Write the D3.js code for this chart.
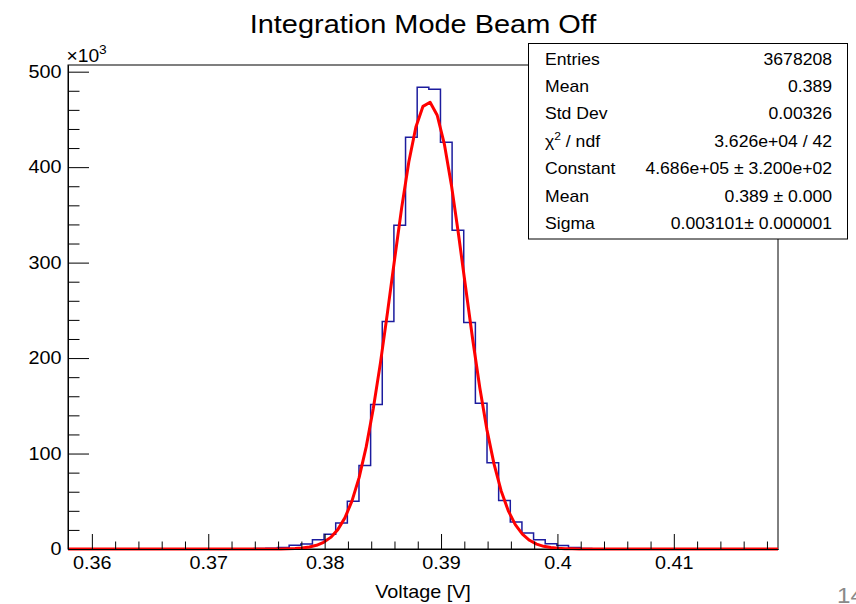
<!DOCTYPE html>
<html>
<head>
<meta charset="utf-8">
<script src="https://cdn.jsdelivr.net/npm/d3@7"></script>
<style>
  html, body { margin: 0; padding: 0; background: #ffffff; }
  svg { display: block; font-family: "Liberation Sans", Arial, Helvetica, sans-serif; }
</style>
</head>
<body>
<svg id="chart" width="856" height="604"></svg>
<script>
// ---------------- data ----------------
const chartTitle = "Integration Mode Beam Off";
const xAxisTitle = "Voltage [V]";
const yExponentLabel = "10";
const pageNumber = "14";

// histogram binning
const binStart = 0.35795;
const binWidth = 0.001;
// bin contents (entries per bin)
const binCounts = [
  0, 0, 0, 0, 0, 0, 0, 0, 0, 0,
  0, 0, 0, 0, 100, 200, 400, 800, 1700, 3800,
  5300, 9700, 15500, 27200, 50000, 87500, 151400, 238300, 339200, 431300,
  483700, 481600, 426100, 334000, 237200, 152800, 90300, 50900, 28300, 16800,
  9700, 5500, 3600, 1700, 600, 300, 100, 0, 0, 0,
  0, 0, 0, 0, 0, 0, 0, 0, 0, 0,
  0
];

// Gaussian fit parameters (from the stats box)
const fitConstant = 468600;
const fitMean = 0.38890;
const fitSigma = 0.003101;
const fitPoints = 100;

// axis ticks
const xTickValues = [0.36, 0.37, 0.38, 0.39, 0.40, 0.41];
const xTickLabels = ["0.36", "0.37", "0.38", "0.39", "0.4", "0.41"];
const yTickValues = [0, 100000, 200000, 300000, 400000, 500000];
const yTickLabels = ["0", "100", "200", "300", "400", "500"];

// stats box
const statLabels = ["Entries", "Mean", "Std Dev", "CHI2", "Constant", "Mean", "Sigma"];
const statValues = ["3678208", "0.389", "0.00326", "3.626e+04 / 42",
                    "4.686e+05 \u00b1 3.200e+02", "0.389 \u00b1 0.000", "0.003101\u00b1 0.000001"];

// ---------------- drawing ----------------
const SX = 1.1; // horizontal stretch of the original rendering
const svg = d3.select("#chart");
const L = 68, R = 778, T = 65, B = 549;

const xMax = binStart + binCounts.length * binWidth;
const x = d3.scaleLinear().domain([binStart, xMax]).range([L, R]);
const y = d3.scaleLinear().domain([0, 507000]).range([B, T]);

function label(parent, px, py, str, size, anchor, fill) {
  return parent.append("text")
    .attr("transform", `translate(${px},${py}) scale(${SX},1)`)
    .attr("text-anchor", anchor || "start")
    .attr("font-size", size)
    .attr("fill", fill || "#000")
    .text(str);
}

// frame
svg.append("rect").attr("x", L).attr("y", T).attr("width", R - L).attr("height", B - T)
  .attr("fill", "none").attr("stroke", "#000").attr("stroke-width", 1);

// histogram
const histPts = [];
binCounts.forEach((v, i) => {
  histPts.push([binStart + i * binWidth, v]);
  histPts.push([binStart + (i + 1) * binWidth, v]);
});
svg.append("path")
  .attr("d", d3.line().x(d => x(d[0])).y(d => y(d[1]))(histPts))
  .attr("fill", "none").attr("stroke", "#1c1c9e").attr("stroke-width", 1.5);

// fit curve
const fitPts = d3.range(fitPoints + 1).map(k => {
  const xv = binStart + (xMax - binStart) * k / fitPoints;
  return [xv, fitConstant * Math.exp(-0.5 * Math.pow((xv - fitMean) / fitSigma, 2))];
});
svg.append("path")
  .attr("d", d3.line().x(d => x(d[0])).y(d => y(d[1]))(fitPts))
  .attr("fill", "none").attr("stroke", "#ff0000").attr("stroke-width", 3)
  .attr("stroke-linejoin", "round");

// y axis
const yMinor = d3.range(0, 500001, 20000).filter(v => v % 100000 !== 0);
svg.append("g").attr("transform", `translate(${L},0)`)
  .call(d3.axisLeft(y).tickValues(yMinor).tickSize(-11.5).tickSizeOuter(0).tickFormat(""));
const yAxis = svg.append("g").attr("transform", `translate(${L},0)`)
  .call(d3.axisLeft(y).tickValues(yTickValues).tickSize(-21).tickSizeOuter(0).tickPadding(6)
    .tickFormat((d, i) => yTickLabels[i]));
yAxis.selectAll("text").attr("font-size", 18).attr("fill", "#000")
  .attr("font-family", "Liberation Sans, Arial, sans-serif")
  .attr("transform", `scale(${SX},1)`);

// x axis
const xMinor = d3.range(0, 30).map(k => 0.36 + k * 0.002).filter(v => v < xMax && Math.abs(Math.round(v * 100) - v * 100) > 1e-6);
svg.append("g").attr("transform", `translate(0,${B})`)
  .call(d3.axisBottom(x).tickValues(xMinor).tickSize(-7.5).tickSizeOuter(0).tickFormat(""));
const xAxis = svg.append("g").attr("transform", `translate(0,${B})`)
  .call(d3.axisBottom(x).tickValues(xTickValues).tickSize(-15).tickSizeOuter(0).tickPadding(7.5)
    .tickFormat((d, i) => xTickLabels[i]));
xAxis.selectAll("text").attr("font-size", 18).attr("fill", "#000")
  .attr("font-family", "Liberation Sans, Arial, sans-serif")
  .attr("transform", `scale(${SX},1)`);
svg.selectAll(".domain").attr("stroke", "#000");
svg.selectAll(".tick line").attr("stroke", "#000");

// x10^3
const ex = label(svg, 66.5, 62, "\u00d7" + yExponentLabel, 17.5, "start");
ex.append("tspan").attr("font-size", 12.5).attr("dy", -8).text("3");

// title
label(svg, 423, 33, chartTitle, 26.3, "middle");

// x axis title
label(svg, 423, 598, xAxisTitle, 18, "middle");

// stats box
svg.append("rect").attr("x", 528.5).attr("y", 43.5).attr("width", 319).attr("height", 195.5)
  .attr("fill", "#fff").attr("stroke", "#000").attr("stroke-width", 1);
statLabels.forEach((s, i) => {
  const by = 64.5 + i * 27.4;
  if (s === "CHI2") {
    const t = label(svg, 545, by, "\u03c7", 16, "start");
    t.append("tspan").attr("font-size", 11).attr("dy", -7).text("2");
    t.append("tspan").attr("dy", 7).text(" / ndf");
  } else {
    label(svg, 545, by, s, 16, "start");
  }
  label(svg, 832, by, statValues[i], 16, "end");
});

// page number (cut at the right edge, as in the reference)
label(svg, 837, 603, pageNumber, 22, "start", "#8a8a8a");
</script>
</body>
</html>
